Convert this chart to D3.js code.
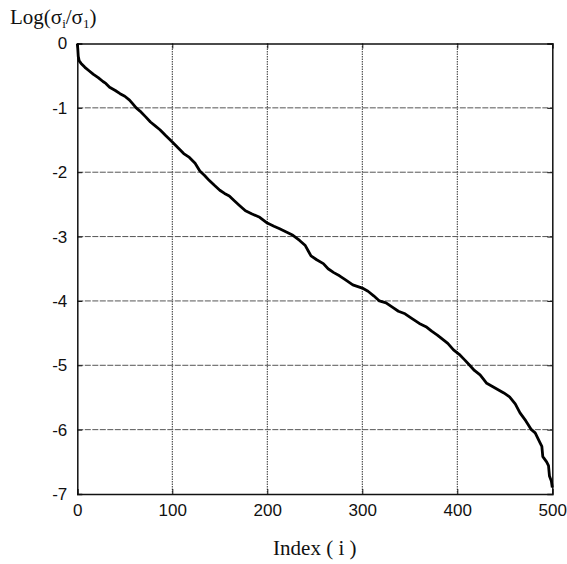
<!DOCTYPE html>
<html>
<head>
<meta charset="utf-8">
<script src="https://cdn.jsdelivr.net/npm/d3@7"></script>
<style>
body { margin: 0; background: #fff; }
svg { display: block; }
</style>
</head>
<body>
<svg id="chart"></svg>
<script>
var width = 567;
var height = 564;

// index i
var idx = [0, 0.5, 1, 2, 4, 8, 12, 17, 22, 27, 30, 34, 40, 45, 50, 55, 58, 62, 66, 72,
  77, 82, 87, 93, 100, 106, 112, 118, 124, 129, 134, 139, 144, 150, 155, 160, 165, 171, 177, 184,
  192, 200, 207, 213, 220, 227, 234, 240, 243, 246, 252, 259, 264, 270, 276, 282, 290, 300, 306, 312,
  318, 325, 332, 338, 345, 352, 360, 367, 373, 379, 385, 390, 396, 402, 408, 413, 418, 424, 431, 437,
  443, 449, 455, 461, 466, 472, 478, 482, 487, 489, 490, 494, 496, 497, 499, 500];
// log(sigma_i / sigma_1)
var logRatio = [0, -0.08, -0.2, -0.27, -0.31, -0.37, -0.42, -0.48, -0.53, -0.59, -0.62, -0.68, -0.73, -0.78, -0.82, -0.88, -0.93, -1.0, -1.05, -1.14,
  -1.22, -1.28, -1.34, -1.43, -1.53, -1.62, -1.71, -1.77, -1.86, -1.98, -2.05, -2.13, -2.2, -2.28, -2.33, -2.37, -2.44, -2.52, -2.6, -2.65,
  -2.7, -2.79, -2.84, -2.88, -2.93, -2.98, -3.06, -3.14, -3.22, -3.3, -3.36, -3.42, -3.5, -3.56, -3.61, -3.67, -3.75, -3.8, -3.85, -3.92,
  -4.0, -4.03, -4.1, -4.16, -4.2, -4.27, -4.35, -4.4, -4.47, -4.53, -4.6, -4.66, -4.76, -4.83, -4.92, -5.0, -5.08, -5.15, -5.28, -5.33,
  -5.38, -5.43, -5.49, -5.6, -5.74, -5.86, -6.0, -6.05, -6.2, -6.26, -6.42, -6.5, -6.56, -6.72, -6.8, -6.9];

var xTicks = [0, 100, 200, 300, 400, 500];
var yTicks = [0, -1, -2, -3, -4, -5, -6, -7];

var plotLeft = 77.3, plotRight = 552.3, plotTop = 43.5, plotBottom = 494;

var svg = d3.select("#chart")
  .attr("width", width)
  .attr("height", height);

var x = d3.scaleLinear().domain([0, 500]).range([plotLeft, plotRight]);
var y = d3.scaleLinear().domain([0, -7]).range([plotTop, plotBottom]);

// plain hyphen for the minus sign, like the original
var fmt = function(d) { return String(d); };

// grid
svg.append("g")
  .selectAll("line")
  .data(xTicks.slice(1, -1))
  .enter()
  .append("line")
  .attr("x1", function(d) { return x(d); })
  .attr("x2", function(d) { return x(d); })
  .attr("y1", plotTop)
  .attr("y2", plotBottom)
  .attr("stroke", "#333")
  .attr("stroke-width", 1)
  .attr("stroke-dasharray", "1.5,1");

svg.append("g")
  .selectAll("line")
  .data(yTicks.slice(1, -1))
  .enter()
  .append("line")
  .attr("x1", plotLeft)
  .attr("x2", plotRight)
  .attr("y1", function(d) { return y(d); })
  .attr("y2", function(d) { return y(d); })
  .attr("stroke", "#555")
  .attr("stroke-width", 1)
  .attr("stroke-dasharray", "6,1.5");

// axes with inward ticks
var xAxis = d3.axisBottom(x).tickValues(xTicks).tickSize(-5).tickPadding(12).tickFormat(fmt);
var yAxis = d3.axisLeft(y).tickValues(yTicks).tickSize(-5).tickPadding(10).tickFormat(fmt);

var gx = svg.append("g").attr("transform", "translate(0," + plotBottom + ")").call(xAxis);
var gy = svg.append("g").attr("transform", "translate(" + plotLeft + ",0)").call(yAxis);
svg.append("g").attr("transform", "translate(0," + plotTop + ")")
  .call(d3.axisTop(x).tickValues(xTicks).tickSize(-5).tickFormat(""));
svg.append("g").attr("transform", "translate(" + plotRight + ",0)")
  .call(d3.axisRight(y).tickValues(yTicks).tickSize(-5).tickFormat(""));

svg.selectAll(".domain").attr("stroke", "#111").attr("stroke-width", 1.5);
svg.selectAll(".tick line").attr("stroke", "#111");
svg.selectAll(".tick text")
  .attr("font-family", "Liberation Sans, Arial, sans-serif")
  .attr("font-size", "17px")
  .attr("fill", "#111");
gx.selectAll(".tick text").attr("dy", "0.6em");

// curve
var line = d3.line()
  .x(function(d) { return x(d[0]); })
  .y(function(d) { return y(d[1]); });

svg.append("path")
  .datum(d3.zip(idx, logRatio))
  .attr("d", line)
  .attr("fill", "none")
  .attr("stroke", "#000")
  .attr("stroke-width", 2.8)
  .attr("stroke-linejoin", "round");

// titles
var title = svg.append("text")
  .attr("x", 10)
  .attr("y", 24)
  .attr("font-family", "Liberation Serif, Times New Roman, serif")
  .attr("font-size", "21px")
  .attr("fill", "#111");
title.append("tspan").text("Log(σ");
title.append("tspan").attr("font-size", "13px").attr("dy", 4).text("i");
title.append("tspan").attr("dy", -4).text("/σ");
title.append("tspan").attr("font-size", "13px").attr("dy", 4).text("1");
title.append("tspan").attr("dy", -4).text(")");

svg.append("text")
  .attr("x", (plotLeft + plotRight) / 2)
  .attr("y", 555)
  .attr("text-anchor", "middle")
  .attr("font-family", "Liberation Serif, Times New Roman, serif")
  .attr("font-size", "21px")
  .attr("fill", "#111")
  .text("Index ( i )");
</script>
</body>
</html>
